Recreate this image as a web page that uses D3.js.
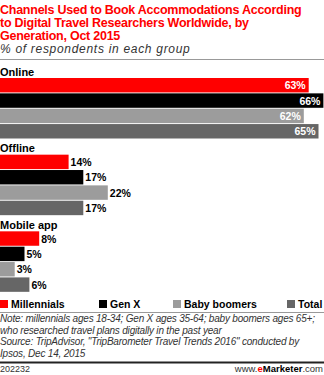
<!DOCTYPE html>
<html>
<head>
<meta charset="utf-8">
<script src="https://cdn.jsdelivr.net/npm/d3@7"></script>
<style>
  body { margin: 0; background: #fff; }
  svg { display: block; font-family: "Liberation Sans", Arial, sans-serif; }
</style>
</head>
<body>
<script>
// define constants
const svgWidth = 324;
const svgHeight = 375;

const titleLines = ['Channels Used to Book Accommodations According',
                    'to Digital Travel Researchers Worldwide, by',
                    'Generation, Oct 2015'];
const subtitle = '% of respondents in each group';
const channels = ['Online', 'Offline', 'Mobile app'];
const generations = ['Millennials', 'Gen X', 'Baby boomers', 'Total'];
const genColors = ['#ff0000', '#000000', '#9c9c9c', '#666666'];

// percent of respondents, one array per generation (Online, Offline, Mobile app)
const millennials = [63, 14, 8];
const genX = [66, 17, 5];
const babyBoomers = [62, 22, 3];
const total = [65, 17, 6];

const noteLines = ['Note: millennials ages 18-34; Gen X ages 35-64; baby boomers ages 65+;',
                   'who researched travel plans digitally in the past year',
                   'Source: TripAdvisor, "TripBarometer Travel Trends 2016" conducted by',
                   'Ipsos, Dec 14, 2015'];
const chartId = '202232';

function buildRows() {
    const series = [millennials, genX, babyBoomers, total];
    const rows = [];
    channels.forEach((c, ci) => {
        generations.forEach((g, gi) => {
            rows.push({channel: c, gen: g, value: series[gi][ci]});
        });
    });
    return rows;
}

function draw(rows) {

    const svg = d3.select('body')
                  .append('svg')
                  .attr('width', svgWidth)
                  .attr('height', svgHeight);

    // title block
    svg.selectAll('text.title')
       .data(titleLines)
       .enter()
       .append('text')
       .attr('class', 'title')
       .attr('x', 0)
       .attr('y', (d, i) => 14 + i * 12.75)
       .style('font-size', '12.5px')
       .style('font-weight', 'bold')
       .style('letter-spacing', '-0.25px')
       .style('fill', '#ff0000')
       .text(d => d);

    svg.append('text')
       .attr('x', 0)
       .attr('y', 53)
       .style('font-size', '12px')
       .style('font-style', 'italic')
       .style('letter-spacing', '0.7px')
       .style('fill', '#333')
       .text(subtitle);

    svg.append('line')
       .attr('x1', 0).attr('x2', svgWidth)
       .attr('y1', 59.5).attr('y2', 59.5)
       .attr('stroke', '#999');

    // scales
    const groupScale = d3.scaleBand()
                         .domain(channels)
                         .range([62, 292]);

    const barScale = d3.scaleBand()
                       .domain(generations)
                       .range([16, 76.5])
                       .paddingInner(0.06);

    const xScale = d3.scaleLinear()
                     .domain([0, 66])
                     .range([0, 323.4]);

    const colorScale = d3.scaleOrdinal()
                         .domain(generations)
                         .range(genColors);

    // labels go inside a bar only when it is long enough
    const inside = d => xScale(d.value) > 200;

    const groups = svg.selectAll('g.channel')
                      .data(channels)
                      .enter()
                      .append('g')
                      .attr('class', 'channel')
                      .attr('transform', d => 'translate(0,' + groupScale(d) + ')');

    // channel labels
    groups.append('text')
          .attr('x', 0)
          .attr('y', 13.5)
          .style('font-size', '11px')
          .style('font-weight', 'bold')
          .style('fill', '#000')
          .text(d => d);

    // bars
    groups.selectAll('rect')
          .data(c => rows.filter(r => r.channel === c))
          .enter()
          .append('rect')
          .attr('x', 0)
          .attr('y', d => barScale(d.gen))
          .attr('width', d => xScale(d.value))
          .attr('height', barScale.bandwidth())
          .style('fill', d => colorScale(d.gen));

    // value labels
    groups.selectAll('text.value')
          .data(c => rows.filter(r => r.channel === c))
          .enter()
          .append('text')
          .attr('class', 'value')
          .attr('x', d => inside(d) ? xScale(d.value) - 3 : xScale(d.value) + 2)
          .attr('y', d => barScale(d.gen) + barScale.bandwidth() / 2 + 4)
          .attr('text-anchor', d => inside(d) ? 'end' : 'start')
          .style('font-size', '10.5px')
          .style('font-weight', 'bold')
          .style('fill', d => inside(d) ? '#fff' : '#000')
          .text(d => d.value + '%');

    // legend
    const legendX = [0, 99, 173, 287];
    const legend = svg.selectAll('g.legend')
                      .data(generations)
                      .enter()
                      .append('g')
                      .attr('class', 'legend')
                      .attr('transform', (d, i) => 'translate(' + legendX[i] + ',300)');

    legend.append('rect')
          .attr('width', 8)
          .attr('height', 8)
          .style('fill', d => colorScale(d));

    legend.append('text')
          .attr('x', 11)
          .attr('y', 8)
          .style('font-size', '10.5px')
          .style('font-weight', 'bold')
          .style('fill', '#000')
          .text(d => d);

    // notes and source
    svg.append('line')
       .attr('x1', 0).attr('x2', svgWidth)
       .attr('y1', 312.5).attr('y2', 312.5)
       .attr('stroke', '#999');

    svg.selectAll('text.note')
       .data(noteLines)
       .enter()
       .append('text')
       .attr('class', 'note')
       .attr('x', 0)
       .attr('y', (d, i) => 322 + i * 11.5)
       .style('font-size', '10px')
       .style('font-style', 'italic')
       .style('letter-spacing', '-0.2px')
       .style('fill', '#333')
       .text(d => d);

    svg.append('rect')
       .attr('x', 0).attr('y', 361.5)
       .attr('width', svgWidth).attr('height', 2)
       .style('fill', '#222');

    svg.append('text')
       .attr('x', 0)
       .attr('y', 372)
       .style('font-size', '9px')
       .style('fill', '#333')
       .text(chartId);

    const brand = svg.append('text')
                     .attr('x', svgWidth - 1)
                     .attr('y', 372)
                     .attr('text-anchor', 'end')
                     .style('font-size', '9.5px')
                     .style('fill', '#333');
    brand.append('tspan').text('www.');
    brand.append('tspan').style('fill', '#ff0000').style('font-weight', 'bold').text('e');
    brand.append('tspan').style('font-weight', 'bold').style('fill', '#000').text('Marketer');
    brand.append('tspan').text('.com');
}

draw(buildRows());
</script>
</body>
</html>
